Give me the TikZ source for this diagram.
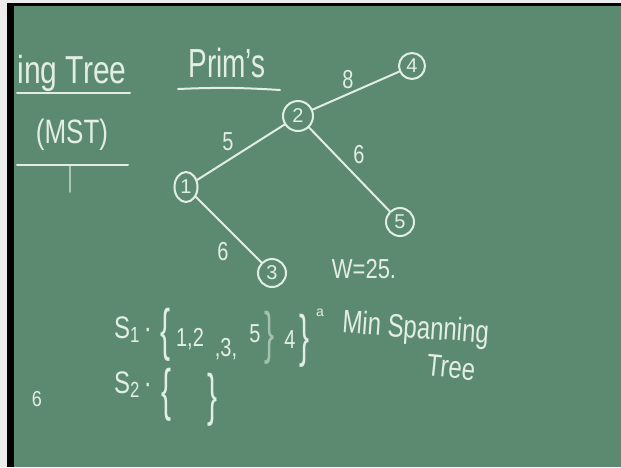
\documentclass[tikz,border=0pt]{standalone}
\usepackage{fontspec}
\setmainfont{Liberation Sans}
\usetikzlibrary{shapes.geometric}
\definecolor{board}{RGB}{92,138,112}
\definecolor{chalk}{RGB}{226,238,228}
\newcommand{\tallx}[2]{\scalebox{1}[#1]{#2}}
\tikzset{
  chalkline/.style={draw=chalk, line width=2pt, line cap=round},
  faintline/.style={draw=chalk, line width=1.6pt, line cap=round, opacity=0.6},
  txt/.style={text=chalk, inner sep=0pt, anchor=base},
  vert/.style={draw=chalk, line width=2pt, ellipse, inner sep=0pt, text=chalk,
               font=\fontsize{20}{22}\selectfont},
  wlabel/.style={text=chalk, inner sep=0pt, font=\fontsize{20}{22}\selectfont}
}
\begin{document}
\begin{tikzpicture}[x=1pt,y=-1pt]
\useasboundingbox (0,0) rectangle (621,467);
\fill[board] (0,0) rectangle (621,467);
\fill[white!85!gray] (0,0) rectangle (7,467);
\fill[white!85!gray] (0,0) rectangle (621,3);
\fill[black] (7,3) rectangle (14,467);
\fill[black] (7,3) rectangle (621,5.5);

% left titles
\node[txt, font=\fontsize{30}{32}\selectfont] (tree) at (72,83) {\tallx{1.3}{ing Tree}};
\coordinate (u1a) at (17,93); \coordinate (u1b) at (130,93);
\draw[chalkline] (u1a) -- (u1b);
\node[txt, font=\fontsize{26}{28}\selectfont] (mst) at (72,143) {\tallx{1.3}{(MST)}};
\coordinate (u2a) at (17,165); \coordinate (u2b) at (128,165);
\draw[chalkline] (u2a) -- (u2b);
\coordinate (v1a) at (70,166); \coordinate (v1b) at (70,192);
\draw[faintline] (v1a) -- (v1b);

% Prim's
\node[txt, font=\fontsize{28}{30}\selectfont] (prims) at (227,77) {\tallx{1.45}{Prim's}};
\coordinate (u3a) at (178,89); \coordinate (u3b) at (280,90);
\draw[chalkline] (u3a) to[bend left=3] (u3b);

% tree
\node[vert, minimum width=26pt, minimum height=26pt] (n4) at (412,66) {4};
\node[vert, minimum width=30pt, minimum height=30pt] (n2) at (298,116) {2};
\node[vert, minimum width=23pt, minimum height=30pt] (n1) at (186,187) {1};
\node[vert, minimum width=28pt, minimum height=28pt] (n5) at (400,222) {5};
\node[vert, minimum width=28pt, minimum height=28pt] (n3) at (272,273) {3};
\draw[chalkline] (n2) -- (n4);
\draw[chalkline] (n1) -- (n2);
\draw[chalkline] (n2) -- (n5);
\draw[chalkline] (n1) -- (n3);
\node[wlabel] (w8) at (348,80) {\tallx{1.3}{8}};
\node[wlabel] (w5) at (228,142) {\tallx{1.3}{5}};
\node[wlabel] (w6a) at (359,155) {\tallx{1.3}{6}};
\node[wlabel] (w6b) at (223,252) {\tallx{1.3}{6}};

\node[txt, font=\fontsize{22}{24}\selectfont] (W) at (364,278) {\tallx{1.25}{W=25.}};

% sets
\node[txt, font=\fontsize{24}{26}\selectfont] (s1) at (133,338) {\tallx{1.3}{S\textsubscript{1}\,·}};
\node[txt, font=\fontsize{30}{32}\selectfont] (b1) at (166,349) {\tallx{1.9}{\{}};
\node[txt, font=\fontsize{20}{22}\selectfont] (e12) at (190,346) {\tallx{1.3}{1,2}};
\node[txt, font=\fontsize{20}{22}\selectfont] (e3) at (226,356) {\tallx{1.3}{,3,}};
\node[txt, font=\fontsize{20}{22}\selectfont] (e5) at (255,342) {\tallx{1.3}{5}};
\node[txt, font=\fontsize{30}{32}\selectfont, opacity=0.55] (b1x) at (270,352) {\tallx{1.9}{\}}};
\node[txt, font=\fontsize{20}{22}\selectfont] (e4) at (290,348) {\tallx{1.3}{4}};
\node[txt, font=\fontsize{30}{32}\selectfont] (b1c) at (305,355) {\tallx{1.9}{\}}};
\node[txt, font=\fontsize{14}{16}\selectfont] (sa) at (320,316) {a};

\node[txt, font=\fontsize{24}{26}\selectfont] (s2) at (133,393) {\tallx{1.3}{S\textsubscript{2}\,·}};
\node[txt, font=\fontsize{30}{32}\selectfont] (b2) at (167,409) {\tallx{1.9}{\{}};
\node[txt, font=\fontsize{30}{32}\selectfont] (b2c) at (213,414) {\tallx{1.9}{\}}};

\node[txt, font=\fontsize{24}{26}\selectfont, rotate=-4] (min) at (415,338) {\tallx{1.35}{Min Spanning}};
\node[txt, font=\fontsize{24}{26}\selectfont, rotate=-6] (tr) at (450,378) {\tallx{1.3}{Tree}};

\node[txt, font=\fontsize{18}{20}\selectfont] (six) at (37,406) {\tallx{1.2}{6}};
\end{tikzpicture}
\end{document}
